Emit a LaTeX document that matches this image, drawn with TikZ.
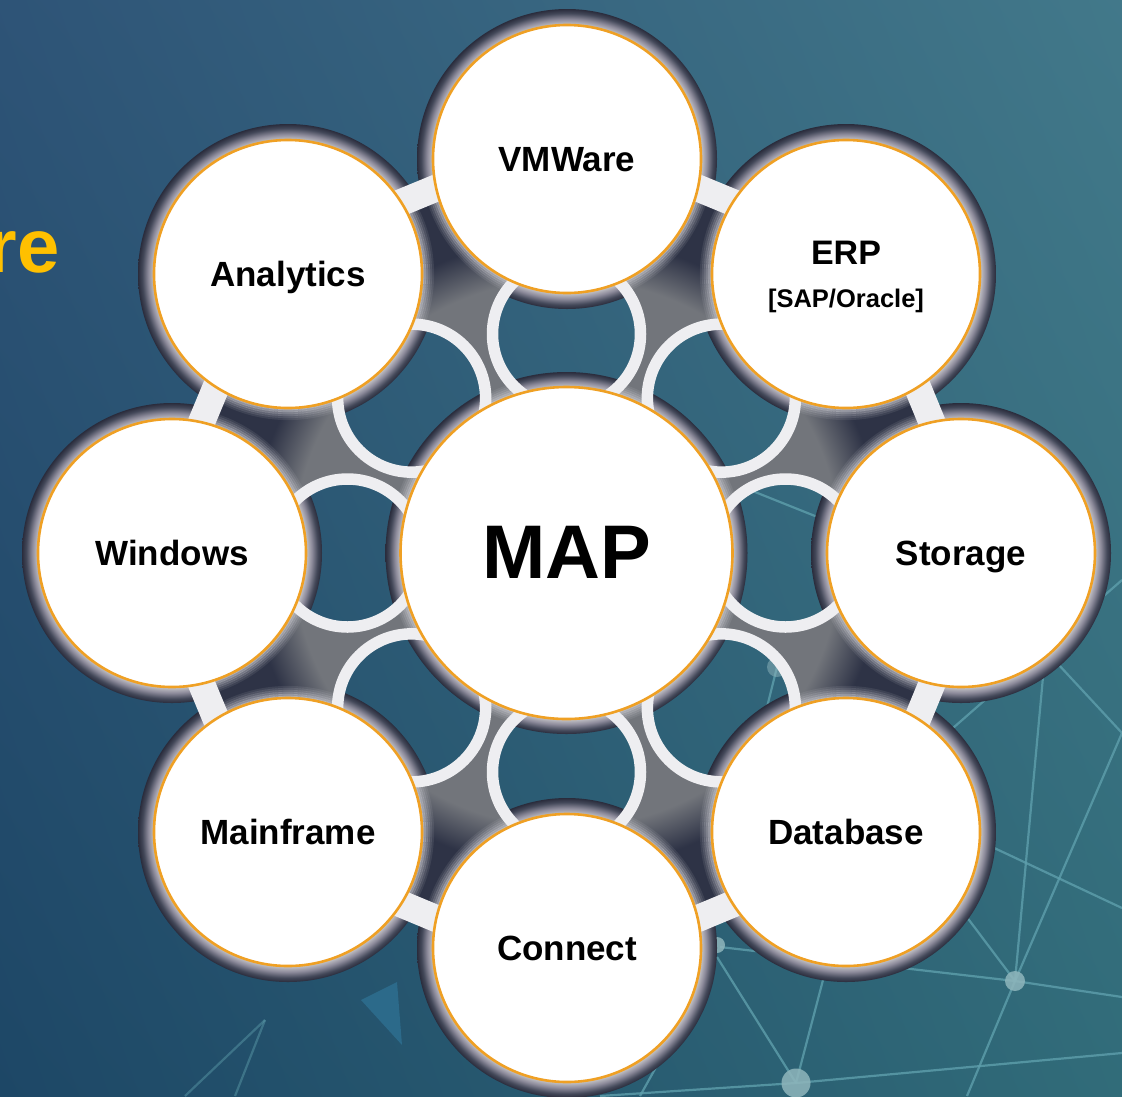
\documentclass[tikz,border=0pt]{standalone}
\usepackage{fontspec}
\setmainfont{Liberation Sans}
\usetikzlibrary{calc}
\pgfdeclarelayer{back}
\pgfsetlayers{back,main}
% background: linear in u (left-right) and v (bottom-top)
\pgfdeclarefunctionalshading{bgshade}{\pgfpoint{0bp}{0bp}}{\pgfpoint{100bp}{100bp}}{}{
 25 sub 50 div exch 25 sub 50 div exch
 1 index 0.078 mul 1 index 0.066 mul add 0.114 add
 2 index 0.145 mul 2 index 0.050 mul add 0.278 add
 3 index 0.075 mul 3 index 0.066 mul add 0.400 add
 5 -2 roll pop pop
}
\definecolor{hgA}{HTML}{C8C8CB}
\definecolor{hgB}{HTML}{8E8C9C}
\definecolor{hgC}{HTML}{434859}
\definecolor{hgD}{HTML}{2A2C3C}
\definecolor{hubG}{HTML}{72757B}
\definecolor{hubD}{HTML}{2E3346}
\definecolor{ringW}{HTML}{EEEEF1}
\definecolor{rimO}{HTML}{EFA024}
\definecolor{rimL}{HTML}{D0D0D6}
\definecolor{netL}{HTML}{5E9FAC}
\definecolor{netN}{HTML}{8FB6BC}
\definecolor{triC}{HTML}{2C6A8A}
\definecolor{tileY}{HTML}{FFC000}
% r outer = 150, inner = 134
\pgfdeclareradialshading{halosmall}{\pgfpoint{0bp}{0bp}}{
 color(0bp)=(hgA); color(22.3bp)=(hgA); color(23.3bp)=(hgB); color(24.3bp)=(hgC); color(25bp)=(hgD); color(50bp)=(hgD)}
% r outer = 181, inner = 166
\pgfdeclareradialshading{halobig}{\pgfpoint{0bp}{0bp}}{
 color(0bp)=(hgA); color(22.9bp)=(hgA); color(23.7bp)=(hgB); color(24.5bp)=(hgC); color(25bp)=(hgD); color(50bp)=(hgD)}
% polygon radius 408 = 25bp
\pgfdeclareradialshading{hubshade}{\pgfpoint{0bp}{0bp}}{
 color(0bp)=(hubG); color(16.8bp)=(hubG); color(19.4bp)=(hubD); color(25bp)=(hubD); color(50bp)=(hubD)}
\newcommand{\hubpath}{
   ($(c)+(0:408)$) -- ($(c)+(45:408)$) -- ($(c)+(90:408)$) -- ($(c)+(135:408)$) -- ($(c)+(180:408)$)
   -- ($(c)+(225:408)$) -- ($(c)+(270:408)$) -- ($(c)+(315:408)$) -- cycle
   ($(c)+(0:219)$) circle (74) ($(c)+(45:219)$) circle (74) ($(c)+(90:219)$) circle (74)
   ($(c)+(135:219)$) circle (74) ($(c)+(180:219)$) circle (74) ($(c)+(225:219)$) circle (74)
   ($(c)+(270:219)$) circle (74) ($(c)+(315:219)$) circle (74)}
\tikzset{
 x=1pt,y=1pt,
 petal/.style={circle,draw=rimO,line width=2.6pt,fill=white,minimum size=268pt,inner sep=0pt,outer sep=0pt,
   font=\bfseries\fontsize{35}{36}\selectfont,text=black,text height=25pt,text depth=0pt},
 hubcircle/.style={petal,minimum size=332pt,font=\bfseries\fontsize{76}{76}\selectfont,text height=50pt},
 halo/.style={shading=halosmall},
 ringline/.style={draw=ringW,line width=11.5pt},
 barline/.style={draw=ringW,line width=27pt},
 netline/.style={draw=netL,line width=2.2pt,opacity=.8},
 netdot/.style={fill=netN,opacity=.85},
 glow/.style={draw=rimL,line width=2.2pt},
}
\begin{document}
\begin{tikzpicture}
\useasboundingbox (0,0) rectangle (1122,-1096);
\coordinate (c) at (566.5,-553);
% main nodes
\node[hubcircle] (map) at (c) {MAP};
\node[petal] (vm) at (567,-159) {VMWare};
\node[petal] (erp) at (846,-274) {};
\node[petal] (sto) at (961,-553) {Storage};
\node[petal] (db) at (846,-832) {Database};
\node[petal] (con) at (567,-948) {Connect};
\node[petal] (mf) at (288,-832) {Mainframe};
\node[petal] (win) at (172,-553) {Windows};
\node[petal] (ana) at (288,-274) {Analytics};
\node[font=\bfseries\fontsize{34}{34}\selectfont,inner sep=0pt] (erpa) at (846,-253) {ERP};
\node[font=\bfseries\fontsize{25.5}{25.5}\selectfont,inner sep=0pt] (erpb) at (846,-301) {[SAP/Oracle]};
\node[font=\bfseries\fontsize{76}{76}\selectfont,text=tileY,anchor=base east,inner sep=0pt] (tail) at (60,-272) {re};
\begin{pgfonlayer}{back}
 \shade[shading=bgshade] (0,0) rectangle (1122,-1096);
 \begin{scope}
 \clip (0,0) rectangle (1122,-1096);
 % backdrop network
 \coordinate (na) at (1015,-981);
 \coordinate (nb) at (796,-1083);
 \coordinate (nc) at (777,-667);
 \coordinate (nd) at (717,-945);
 \foreach \p in {(1122,-997),(720,-947),(1043,-677),(1122,-733),(960,-908),(967,-1096)}
   \draw[netline] (na) -- \p;
 \foreach \p in {(823,-980),(717,-957),(1122,-1053),(600,-1096)}
   \draw[netline] (nb) -- \p;
 \draw[netline] (990,-846) -- (1122,-908);
 \draw[netline] (1045,-650) -- (1122,-733);
 \draw[netline] (945,-735) -- (1122,-580);
 \draw[netline] (745,-488) -- (830,-522);
 \draw[netline] (nc) -- (765,-715);
 \draw[netline,opacity=.45] (265,-1020) -- (185,-1096);
 \draw[netline,opacity=.45] (265,-1020) -- (235,-1096);
 \draw[netline] (660,-1060) -- (640,-1096);
 \fill[netdot] (na) circle (10);
 \fill[netdot] (nb) circle (14.5);
 \fill[netdot,opacity=.5] (nc) circle (10);
 \fill[netdot] (nd) circle (8);
 \fill[triC] (361,-1000) -- (397,-982) -- (402,-1045) -- cycle;
 \end{scope}
 % halos
 \foreach \n in {vm,erp,sto,db,con,mf,win,ana}
   \shade[halo] (\n) circle (150);
 \shade[shading=halobig] (map) circle (181);
 % central web with eight round openings, over the halos
 \shade[shading=hubshade,even odd rule] \hubpath;
 % soft light band where the web meets a circle
 \begin{scope}[even odd rule]
  \clip \hubpath;
  \foreach \n/\rr in {vm/134,erp/134,sto/134,db/134,con/134,mf/134,win/134,ana/134,map/166} {
   \draw[glow,opacity=.75] (\n) circle (\rr+1);
   \draw[glow,opacity=.6] (\n) circle (\rr+3);
   \draw[glow,opacity=.45] (\n) circle (\rr+5);
   \draw[glow,opacity=.32] (\n) circle (\rr+7);
   \draw[glow,opacity=.2] (\n) circle (\rr+9);
   \draw[glow,opacity=.1] (\n) circle (\rr+11);
  }
 \end{scope}
 % white rings
 \foreach \a in {0,45,...,315}
   \draw[ringline] ($(c)+(\a:219)$) circle (74);
 % white bars between neighbours
 \draw[barline] ($(vm)+(67.5:23)$) -- ($(erp)+(67.5:23)$);
 \draw[barline] ($(erp)+(22.5:23)$) -- ($(sto)+(22.5:23)$);
 \draw[barline] ($(sto)+(-22.5:23)$) -- ($(db)+(-22.5:23)$);
 \draw[barline] ($(db)+(-67.5:23)$) -- ($(con)+(-67.5:23)$);
 \draw[barline] ($(con)+(-112.5:23)$) -- ($(mf)+(-112.5:23)$);
 \draw[barline] ($(mf)+(-157.5:23)$) -- ($(win)+(-157.5:23)$);
 \draw[barline] ($(win)+(157.5:23)$) -- ($(ana)+(157.5:23)$);
 \draw[barline] ($(ana)+(112.5:23)$) -- ($(vm)+(112.5:23)$);
\end{pgfonlayer}
\end{tikzpicture}
\end{document}
